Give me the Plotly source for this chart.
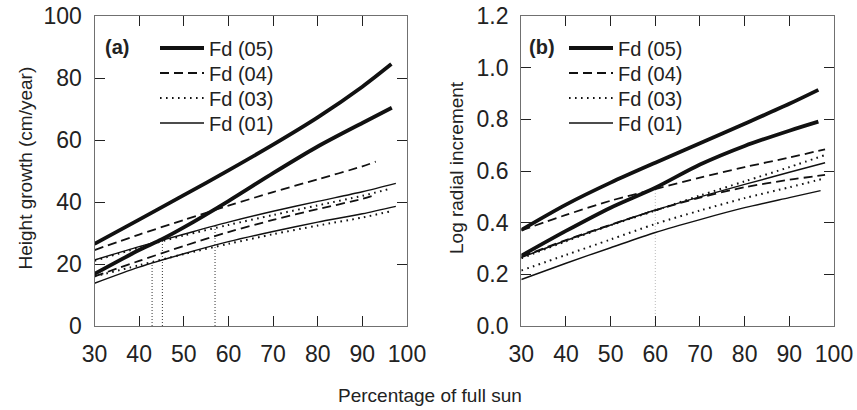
import plotly.graph_objects as go

# ---------------- data: panel (a) height growth ----------------
a_fd05_up_x = [30, 40, 50, 60, 70, 80, 90, 96.5]
a_fd05_up_y = [26.5, 34.3, 42.2, 50.2, 58.5, 67.3, 77.2, 84.5]
a_fd05_lo_x = [30, 40, 45, 50, 60, 70, 80, 90, 96.6]
a_fd05_lo_y = [16.8, 24.5, 27.9, 31.8, 40.3, 49.3, 57.9, 65.5, 70.4]
a_fd04_up_x = [30, 40, 50, 60, 70, 80, 90, 93]
a_fd04_up_y = [24.5, 29.5, 34.2, 38.8, 43.2, 47.3, 51.5, 53]
a_fd04_lo_x = [30, 40, 50, 60, 70, 80, 90, 93]
a_fd04_lo_y = [16, 21, 25.8, 30.3, 34.2, 37.7, 41, 42.3]
a_fd03_up_x = [30, 40, 50, 60, 70, 80, 90, 96]
a_fd03_up_y = [21, 25.3, 29.2, 32.6, 35.8, 38.9, 42, 44.2]
a_fd03_lo_x = [30, 40, 50, 60, 70, 80, 90, 96]
a_fd03_lo_y = [16, 19.6, 23.2, 26.5, 29.6, 32.4, 35, 36.9]
a_fd01_up_x = [30, 40, 50, 60, 70, 80, 90, 97.5]
a_fd01_up_y = [21.3, 25.6, 29.6, 33.5, 37, 40.2, 43.3, 46]
a_fd01_lo_x = [30, 40, 50, 60, 70, 80, 90, 97.5]
a_fd01_lo_y = [13.8, 19, 23.3, 27.2, 30.5, 33.5, 36.2, 38.6]
a_vline_x = [42.9, 45.2, 57.0]
a_vline_top = [20.7, 27.9, 32.6]

# ---------------- data: panel (b) log radial increment ----------------
b_x = [30, 40, 50, 60, 70, 80, 90]
b_fd05_up_y = [0.372, 0.47, 0.555, 0.632, 0.707, 0.783, 0.86, 0.914]
b_fd05_lo_y = [0.272, 0.368, 0.458, 0.535, 0.625, 0.697, 0.756, 0.791]
b_fd05_end = 96.5
b_fd04_up_y = [0.37, 0.43, 0.485, 0.53, 0.574, 0.615, 0.652, 0.684]
b_fd04_lo_y = [0.268, 0.333, 0.392, 0.448, 0.497, 0.537, 0.566, 0.585]
b_fd03_up_y = [0.262, 0.328, 0.39, 0.447, 0.505, 0.56, 0.615, 0.662]
b_fd03_lo_y = [0.215, 0.275, 0.335, 0.395, 0.447, 0.495, 0.537, 0.572]
b_fd01_up_y = [0.265, 0.331, 0.391, 0.449, 0.5, 0.548, 0.595, 0.632]
b_fd01_lo_y = [0.18, 0.243, 0.303, 0.362, 0.412, 0.458, 0.497, 0.524]
b_other_end = 98
b_fd01_lo_end = 97
b_vline_x = [60]
b_vline_top = [0.53]

series_names = ["Fd (05)", "Fd (04)", "Fd (03)", "Fd (01)"]
x_ticks = [30, 40, 50, 60, 70, 80, 90, 100]
a_y_ticks = [0, 20, 40, 60, 80, 100]
b_y_ticks = [0, 0.2, 0.4, 0.6, 0.8, 1.0, 1.2]
b_y_ticktext = ["0.0", "0.2", "0.4", "0.6", "0.8", "1.0", "1.2"]

FONT = "Liberation Sans, Arial, sans-serif"
styles = {
    "Fd (05)": dict(color="#111111", width=3.8, dash="solid"),
    "Fd (04)": dict(color="#111111", width=1.8, dash="9px,5px"),
    "Fd (03)": dict(color="#111111", width=2.0, dash="1.6px,4.4px"),
    "Fd (01)": dict(color="#111111", width=1.4, dash="solid"),
}

W, H = 857, 410
legend_rows_y = [48, 73, 98, 123]          # pixel rows of the legend entries
legend_left = {"a": 155, "b": 564}

fig = go.Figure()

# vertical marker lines (drawn first, under curves)
for xv, top in zip(a_vline_x, a_vline_top):
    fig.add_trace(go.Scatter(x=[xv, xv], y=[0, top], mode="lines", xaxis="x", yaxis="y",
                             line=dict(color="#333333", width=1, dash="1px,2px"),
                             showlegend=False, hoverinfo="skip"))
for xv, top in zip(b_vline_x, b_vline_top):
    fig.add_trace(go.Scatter(x=[xv, xv], y=[0, top], mode="lines", xaxis="x2", yaxis="y2",
                             line=dict(color="#bbbbbb", width=1, dash="1px,2px"),
                             showlegend=False, hoverinfo="skip"))

a_data = {
    "Fd (05)": [(a_fd05_up_x, a_fd05_up_y), (a_fd05_lo_x, a_fd05_lo_y)],
    "Fd (04)": [(a_fd04_up_x, a_fd04_up_y), (a_fd04_lo_x, a_fd04_lo_y)],
    "Fd (03)": [(a_fd03_up_x, a_fd03_up_y), (a_fd03_lo_x, a_fd03_lo_y)],
    "Fd (01)": [(a_fd01_up_x, a_fd01_up_y), (a_fd01_lo_x, a_fd01_lo_y)],
}
b_data = {
    "Fd (05)": [(b_x + [b_fd05_end], b_fd05_up_y), (b_x + [b_fd05_end], b_fd05_lo_y)],
    "Fd (04)": [(b_x + [b_other_end], b_fd04_up_y), (b_x + [b_other_end], b_fd04_lo_y)],
    "Fd (03)": [(b_x + [b_other_end], b_fd03_up_y), (b_x + [b_other_end], b_fd03_lo_y)],
    "Fd (01)": [(b_x + [b_other_end], b_fd01_up_y), (b_x + [b_fd01_lo_end], b_fd01_lo_y)],
}

legend_layouts = {}
leg_idx = 1
for panel, data, xa, ya in [("a", a_data, "x", "y"), ("b", b_data, "x2", "y2")]:
    for k, name in enumerate(series_names):
        leg_name = "legend" if leg_idx == 1 else "legend%d" % leg_idx
        legend_layouts[leg_name] = dict(
            x=legend_left[panel] / W, y=1 - legend_rows_y[k] / H,
            xanchor="left", yanchor="middle", bgcolor="rgba(0,0,0,0)",
            borderwidth=0, itemwidth=44,
            font=dict(family=FONT, size=20, color="#222222"))
        leg_idx += 1
        for i, (xs, ys) in enumerate(data[name]):
            fig.add_trace(go.Scatter(
                x=xs, y=ys, mode="lines", xaxis=xa, yaxis=ya,
                name=name, legendgroup=panel + name, legend=leg_name,
                showlegend=(i == 0),
                line=dict(shape="spline", smoothing=0.8, **styles[name]),
                hoverinfo="skip"))

ax_common = dict(showline=True, linecolor="#707070", linewidth=1.3, mirror="ticks",
                 ticks="inside", ticklen=10, tickwidth=1.3, tickcolor="#222222",
                 showgrid=False, zeroline=False, automargin=False,
                 tickfont=dict(family=FONT, size=23, color="#222222"))

fig.update_layout(
    width=W, height=H,
    margin=dict(l=0, r=0, t=0, b=0, autoexpand=False),
    paper_bgcolor="white", plot_bgcolor="white",
    font=dict(family=FONT, color="#222222"),
    xaxis=dict(domain=[94.5 / W, 407 / W], range=[30, 100], tickvals=x_ticks,
               anchor="y", ticklabelstandoff=7, **ax_common),
    yaxis=dict(domain=[1 - 326 / H, 1 - 16 / H], range=[0, 100], tickvals=a_y_ticks,
               anchor="x", ticklabelstandoff=7, **ax_common),
    xaxis2=dict(domain=[521.3 / W, 834 / W], range=[30, 100], tickvals=x_ticks,
                anchor="y2", ticklabelstandoff=7, **ax_common),
    yaxis2=dict(domain=[1 - 326 / H, 1 - 16 / H], range=[0, 1.2], tickvals=b_y_ticks,
                ticktext=b_y_ticktext, anchor="x2", ticklabelstandoff=7, **ax_common),
    showlegend=True,
    annotations=[
        dict(text="<b>(a)</b>", x=103 / W, y=1 - 47 / H, xref="paper", yref="paper",
             xanchor="left", yanchor="middle", showarrow=False,
             font=dict(family=FONT, size=20, color="#222222")),
        dict(text="<b>(b)</b>", x=527 / W, y=1 - 47 / H, xref="paper", yref="paper",
             xanchor="left", yanchor="middle", showarrow=False,
             font=dict(family=FONT, size=20, color="#222222")),
        dict(text="Height growth (cm/year)", x=25.5 / W, y=1 - 168 / H, xref="paper", yref="paper",
             textangle=-90, xanchor="center", yanchor="middle", showarrow=False,
             font=dict(family=FONT, size=19, color="#222222")),
        dict(text="Log radial increment", x=457 / W, y=1 - 168 / H, xref="paper", yref="paper",
             textangle=-90, xanchor="center", yanchor="middle", showarrow=False,
             font=dict(family=FONT, size=19, color="#222222")),
        dict(text="Percentage of full sun", x=430 / W, y=1 - 395 / H, xref="paper", yref="paper",
             xanchor="center", yanchor="middle", showarrow=False,
             font=dict(family=FONT, size=19, color="#222222")),
    ],
)
fig.update_layout(**legend_layouts)

fig.write_html("out.html", config={"displayModeBar": False},
               post_script="document.body.style.margin='0px';document.body.style.overflow='hidden';")
